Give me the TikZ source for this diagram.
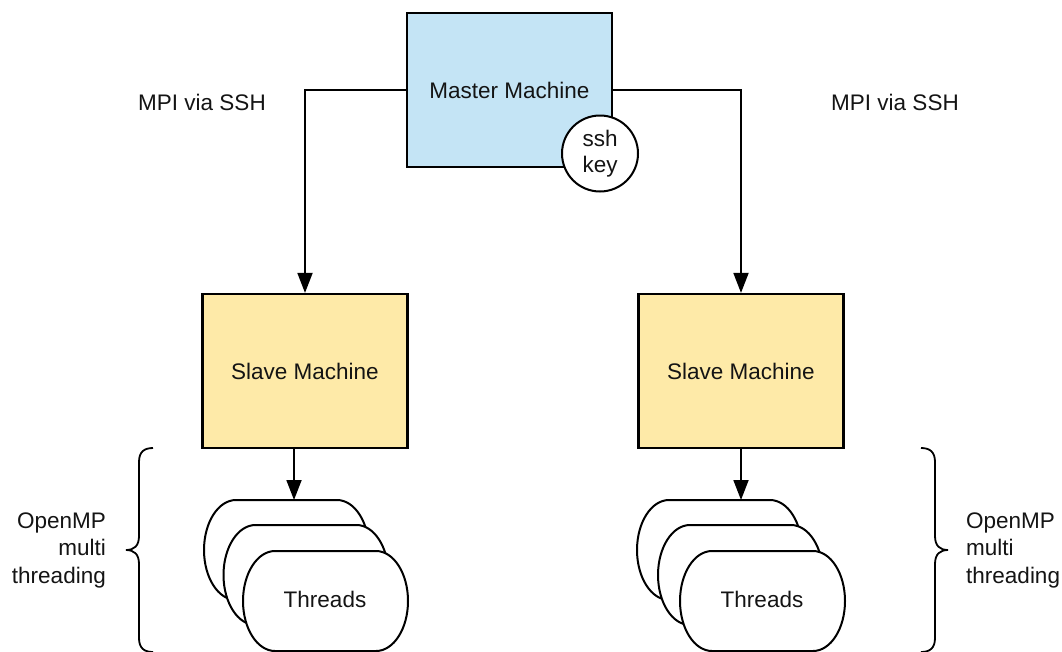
\documentclass[tikz,border=0pt]{standalone}
\usepackage{fontspec}
\setmainfont{Liberation Sans}
\usetikzlibrary{arrows.meta}
\definecolor{masterblue}{RGB}{196,228,245}
\definecolor{slaveyellow}{RGB}{254,234,168}
\definecolor{ink}{RGB}{20,20,20}
\tikzset{
  lbl/.style={text=ink, inner sep=0pt, font=\fontsize{22.5}{27.5}\selectfont},
  machine/.style={draw=black, line width=2.2pt, minimum width=205pt, minimum height=154pt, lbl},
  keycircle/.style={circle, draw=black, fill=white, line width=2pt, minimum size=76pt, align=center, lbl},
  conn/.style={draw=black, line width=1.8pt},
  arr/.style={conn, -{Triangle[length=20pt,width=15pt]}},
  bracestyle/.style={draw=black, line width=1.8pt},
  threadshape/.pic={
    \draw[black, line width=2pt, fill=white]
      (-50.5,50) -- (50.5,50)
      arc[start angle=90,end angle=-90,x radius=32,y radius=50]
      -- (-50.5,-50)
      arc[start angle=270,end angle=90,x radius=32,y radius=50] -- cycle;
  }
}
\begin{document}
\begin{tikzpicture}[x=1pt,y=1pt]
\useasboundingbox (0,0) rectangle (1062,-651);
\clip (0,0) rectangle (1062,-651);
\fill[white] (0,0) rectangle (1062,-651);

% master
\node[machine, fill=masterblue] (master) at (509.5,-90) {Master Machine};
\node[keycircle] (key) at (600,-153.5) {ssh\\[-1pt]key};

% slaves
\node[machine, fill=slaveyellow] (sl) at (305,-371) {Slave Machine};
\node[machine, fill=slaveyellow] (sr) at (741,-371) {Slave Machine};

% MPI labels
\node[lbl] (mpil) at (202,-102) {MPI via SSH};
\node[lbl] (mpir) at (895,-102) {MPI via SSH};

% connectors master -> slaves
\draw[arr] (master.west) -| (sl.north);
\draw[arr] (master.east) -| (sr.north);

% thread stacks left
\pic at (286.5,-550) {threadshape};
\pic at (306,-575) {threadshape};
\pic at (325.5,-601) {threadshape};
\node[lbl] (tl) at (325,-599) {Threads};
\coordinate (la) at (294,-500);

% thread stacks right
\pic at (719.5,-550) {threadshape};
\pic at (740.5,-575) {threadshape};
\pic at (762.5,-601) {threadshape};
\node[lbl] (tr) at (762,-599) {Threads};
\coordinate (ra) at (741,-500);

% slave -> threads
\draw[arr] (sl.south -| la) -- (la);
\draw[arr] (sr.south) -- (ra);

% braces
\draw[bracestyle] (153,-448) .. controls (144,-448) and (139,-452) .. (139,-462)
  -- (139,-536) .. controls (139,-546) and (134,-550) .. (126,-550)
  .. controls (134,-550) and (139,-554) .. (139,-564)
  -- (139,-638) .. controls (139,-648) and (144,-652) .. (153,-652);
\draw[bracestyle] (921,-448) .. controls (930,-448) and (935,-452) .. (935,-462)
  -- (935,-536) .. controls (935,-546) and (940,-550) .. (948,-550)
  .. controls (940,-550) and (935,-554) .. (935,-564)
  -- (935,-638) .. controls (935,-648) and (930,-652) .. (921,-652);

% OpenMP labels
\node[lbl, align=right, anchor=east] (ompl) at (106,-550) {OpenMP\\multi\\threading};
\node[lbl, align=left, anchor=west] (ompr) at (966,-550) {OpenMP\\multi\\threading};
\end{tikzpicture}
\end{document}
